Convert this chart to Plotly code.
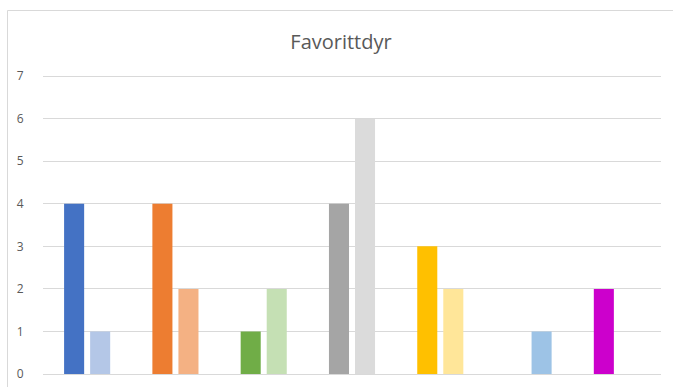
import plotly.graph_objects as go

categories = ["Hund", "Katt", "Hest", "Kanin", "Fugl", "Fisk", "Hamster"]
series1_values = [4, 4, 1, 4, 3, 0, 2]
series2_values = [1, 2, 2, 6, 2, 1, 0]
series1_colors = ["#4472C4", "#ED7D31", "#70AD47", "#A5A5A5", "#FFC000", "#5B9BD5", "#CC00CC"]
series2_colors = ["#B4C7E7", "#F4B183", "#C5E0B4", "#DBDBDB", "#FFE699", "#9DC3E6", "#E699E6"]
y_ticks = [0, 1, 2, 3, 4, 5, 6, 7]

fig = go.Figure()
fig.add_trace(go.Bar(x=categories, y=series1_values, name="Serie 1",
                     marker=dict(color=series1_colors, line=dict(width=0))))
fig.add_trace(go.Bar(x=categories, y=series2_values, name="Serie 2",
                     marker=dict(color=series2_colors, line=dict(width=0))))

fig.update_layout(
    width=673, height=387,
    margin=dict(l=43, r=12, t=74, b=13, autoexpand=False),
    paper_bgcolor="white", plot_bgcolor="white",
    barmode="group", bargap=0.41, bargroupgap=0.23,
    showlegend=False,
    title=dict(text="Favorittdyr", x=341 / 673, xanchor="center",
               y=1 - 42 / 387, yanchor="middle",
               font=dict(family="Open Sans", size=20, color="#595959")),
    xaxis=dict(showticklabels=False, showgrid=False, zeroline=False,
               showline=False, ticks="", automargin=False),
    yaxis=dict(range=[0, 7.05], tickvals=y_ticks, showgrid=True,
               gridcolor="#D9D9D9", gridwidth=1, zeroline=True,
               zerolinecolor="#D9D9D9", zerolinewidth=1, automargin=False,
               ticks="outside", ticklen=16, tickcolor="rgba(0,0,0,0)",
               tickfont=dict(family="Open Sans", size=12, color="#595959")),
    shapes=[dict(type="rect", xref="paper", yref="paper",
                 x0=(7.5 - 43) / 618, x1=1.5,
                 y0=-0.3, y1=(374 - 10.5) / 300,
                 line=dict(color="#D9D9D9", width=1), fillcolor="rgba(0,0,0,0)",
                 layer="below")],
)

fig.write_html("out.html")
